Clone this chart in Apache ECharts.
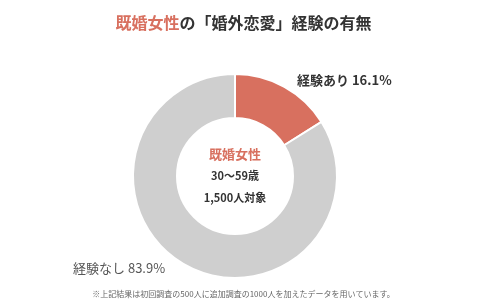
<!DOCTYPE html>
<html><head><meta charset="utf-8">
<script src="https://cdn.jsdelivr.net/npm/echarts@6/dist/echarts.min.js"></script>
<style>html,body{margin:0;padding:0;background:#fff}#c{width:487px;height:307px}</style>
</head><body><div id="c"></div>
<script>
const categories = ['経験あり', '経験なし'];
const values = [16.1, 83.9];
const colors = ['#D8705F', '#CFCFCF'];
const titleRed = '既婚女性';
const titleRest = 'の「婚外恋愛」経験の有無';
const centerLines = ['既婚女性', '30〜59歳', '1,500人対象'];
const footnote = '※上記結果は初回調査の500人に追加調査の1000人を加えたデータを用いています。';

const F = '"Noto Sans CJK JP", "Noto Sans", sans-serif';
const chart = echarts.init(document.getElementById('c'));
chart.setOption({
  animation: false,
  title: {
    text: '{a|' + titleRed + '}{b|' + titleRest + '}',
    left: 'center', top: 10,
    textStyle: {
      rich: {
        a: { color: '#D8705F', fontSize: 16, fontWeight: 'bold', fontFamily: F },
        b: { color: '#333333', fontSize: 16, fontWeight: 'bold', fontFamily: F }
      }
    }
  },
  graphic: [
    { type: 'text', left: 'center', top: 290,
      style: { text: footnote, fontSize: 8, fill: '#666', fontFamily: F } }
  ],
  series: [{
    type: 'pie',
    center: [235, 176],
    radius: [58, 102],
    startAngle: 90,
    clockwise: true,
    itemStyle: { borderColor: '#fff', borderWidth: 2 },
    labelLine: { show: false },
    label: {
      show: true, position: 'outside',
      formatter: p => p.name + ' ' + p.value.toFixed(1) + '%',
      fontFamily: F, fontSize: 13
    },
    labelLayout: function (p) {
      if (p.dataIndex === 0) return { x: 297, y: 80, align: 'left', verticalAlign: 'middle' };
      return { x: 73, y: 268, align: 'left', verticalAlign: 'middle' };
    },
    data: categories.map((c, i) => ({
      name: c, value: values[i],
      itemStyle: { color: colors[i] },
      label: i === 0 ? { color: '#333', fontWeight: 'bold' } : { color: '#555', fontWeight: 'normal' }
    }))
  }, {
    type: 'pie',
    center: [235, 176],
    radius: [0, 0],
    silent: true,
    label: {
      show: true, position: 'center',
      formatter: '{a|' + centerLines[0] + '}\n{b|' + centerLines[1] + '}\n{b|' + centerLines[2] + '}',
      rich: {
        a: { color: '#D8705F', fontSize: 13, fontWeight: 'bold', fontFamily: F, lineHeight: 22 },
        b: { color: '#333', fontSize: 11, fontWeight: 'bold', fontFamily: F, lineHeight: 22 }
      }
    },
    labelLine: { show: false },
    data: [{ value: 1, name: '' }]
  }]
});
</script></body></html>
